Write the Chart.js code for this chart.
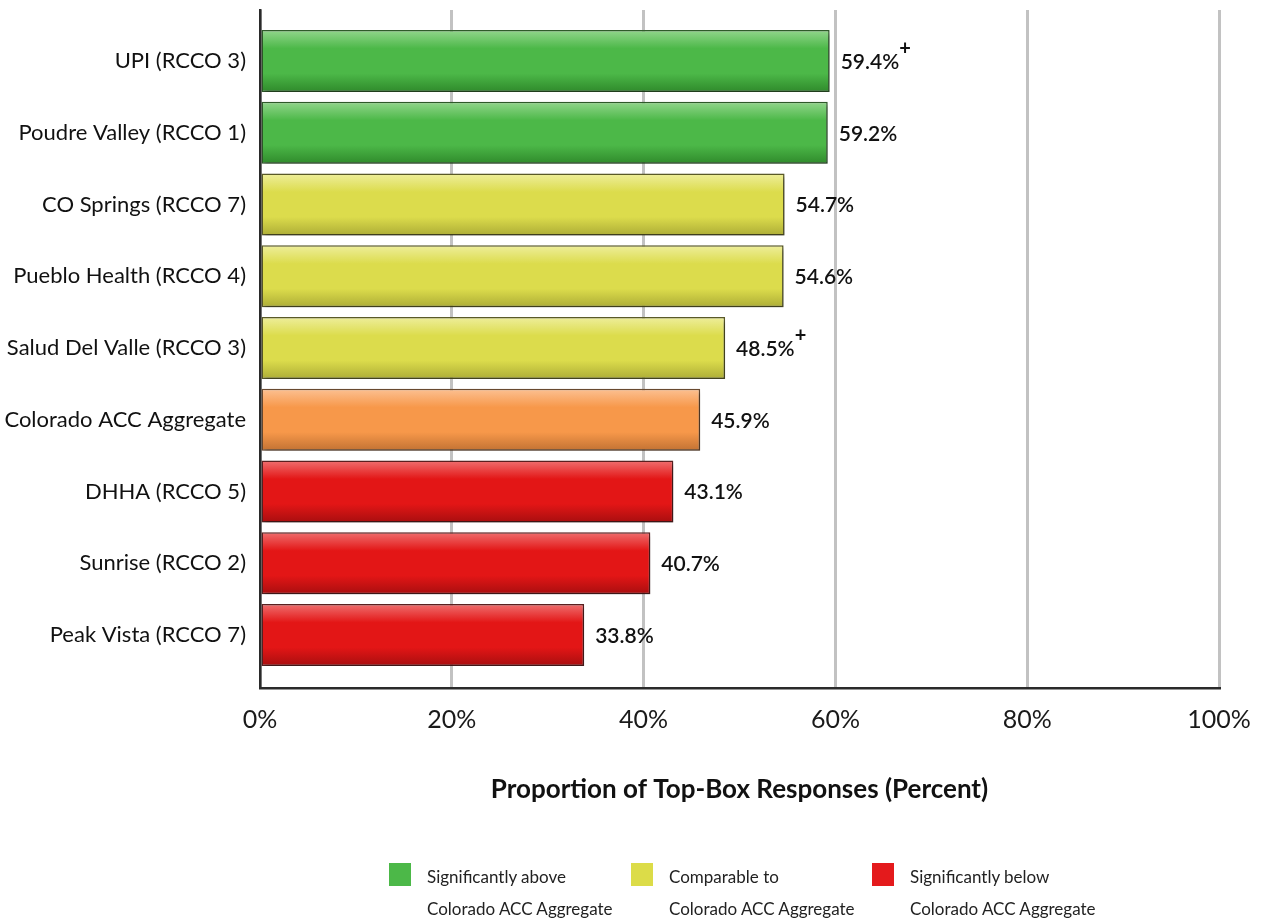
<!DOCTYPE html>
<html>
<head>
<meta charset="utf-8">
<script src="https://cdn.jsdelivr.net/npm/chart.js@4.4.1/dist/chart.umd.min.js"></script>
<style>
  html, body { margin: 0; padding: 0; background: #fff; }
  #wrap { position: relative; width: 1264px; height: 919px; overflow: hidden; }
  #c { position: absolute; left: 0; top: 0; }
  .lg { position: absolute; font-family: Lato, 'Open Sans', sans-serif; font-size: 17px; line-height: 32px; color: #222; white-space: nowrap; }
  .sw { position: absolute; width: 22px; height: 23px; }
</style>
</head>
<body>
<div id="wrap">
  <canvas id="c" width="1264" height="919"></canvas>
  <div id="legend"></div>
</div>
<script>
// ---- data ----
const categories = [
  'UPI (RCCO 3)',
  'Poudre Valley (RCCO 1)',
  'CO Springs (RCCO 7)',
  'Pueblo Health (RCCO 4)',
  'Salud Del Valle (RCCO 3)',
  'Colorado ACC Aggregate',
  'DHHA (RCCO 5)',
  'Sunrise (RCCO 2)',
  'Peak Vista (RCCO 7)'
];
const values = [59.4, 59.2, 54.7, 54.6, 48.5, 45.9, 43.1, 40.7, 33.8];
const status = ['above', 'above', 'comparable', 'comparable', 'comparable', 'aggregate', 'below', 'below', 'below'];
const plusFlags = [true, false, false, false, true, false, false, false, false];
const xTickValues = [0, 20, 40, 60, 80, 100];
const xTitle = 'Proportion of Top-Box Responses (Percent)';
const legendKeys = ['above', 'comparable', 'below'];
const legendLine1 = ['Significantly above', 'Comparable to', 'Significantly below'];
const legendLine2 = ['Colorado ACC Aggregate', 'Colorado ACC Aggregate', 'Colorado ACC Aggregate'];

// ---- styles ----
const FONT = "Lato, 'Open Sans', sans-serif";
const palette = {
  above:      { top: '#93d68d', mid: '#4cb848', bot: '#2f8a2b', border: '#2f5a2a', flat: '#4cb848' },
  comparable: { top: '#eeee9c', mid: '#dcdc4c', bot: '#adad36', border: '#5a5a28', flat: '#dcdc48' },
  aggregate:  { top: '#fcc193', mid: '#f7984a', bot: '#c27233', border: '#6a4a30', flat: '#f7984a' },
  below:      { top: '#ef7070', mid: '#e31616', bot: '#a80e0f', border: '#5a2020', flat: '#e41a1c' }
};
const BAR_H = 62;

const data = values.map((v, i) => ({ x: v, y: i }));

function barFill(ctx) {
  const p = palette[status[ctx.dataIndex]];
  if (!p) return '#888';
  const ys = ctx.chart.scales && ctx.chart.scales.y;
  if (!ys || ctx.type !== 'data') return p.mid;
  const c = ys.getPixelForValue(ctx.dataIndex);
  if (!isFinite(c)) return p.mid;
  const g = ctx.chart.ctx.createLinearGradient(0, c - BAR_H / 2, 0, c + BAR_H / 2);
  g.addColorStop(0, p.top);
  g.addColorStop(0.3, p.mid);
  g.addColorStop(0.7, p.mid);
  g.addColorStop(1, p.bot);
  return g;
}

const shadowPlugin = {
  id: 'barShadow',
  beforeDatasetsDraw(chart) {
    const c = chart.ctx;
    c.save();
    c.shadowColor = 'rgba(0,0,0,0.35)';
    c.shadowBlur = 4;
    c.shadowOffsetX = 2;
    c.shadowOffsetY = 3;
  },
  afterDatasetsDraw(chart) {
    chart.ctx.restore();
  }
};

const labelPlugin = {
  id: 'valueLabels',
  afterDatasetsDraw(chart) {
    const c = chart.ctx;
    const meta = chart.getDatasetMeta(0);
    c.save();
    c.fillStyle = '#111';
    c.textBaseline = 'middle';
    c.textAlign = 'left';
    meta.data.forEach((el, i) => {
      const txt = values[i].toFixed(1) + '%';
      c.font = '600 21px ' + FONT;
      const x = el.x + 11;
      c.fillText(txt, x, el.y + 1);
      if (plusFlags[i]) {
        const w = c.measureText(txt).width;
        c.font = 'bold 20px ' + FONT;
        c.fillText('+', x + w, el.y - 12);
      }
    });
    c.restore();
  }
};

new Chart(document.getElementById('c'), {
  type: 'bar',
  data: {
    datasets: [{
      data: data,
      backgroundColor: barFill,
      borderColor: (ctx) => (palette[status[ctx.dataIndex]] || {}).border || '#333',
      borderWidth: 1.5,
      borderSkipped: false,
      categoryPercentage: 1,
      barPercentage: 0.864
    }]
  },
  options: {
    indexAxis: 'y',
    responsive: false,
    animation: false,
    devicePixelRatio: 1,
    layout: { autoPadding: false, padding: { top: 10, right: 45, bottom: 0, left: 0 } },
    plugins: {
      legend: { display: false },
      tooltip: { enabled: false }
    },
    scales: {
      y: {
        type: 'linear',
        reverse: true,
        offset: false,
        bounds: 'data',
        min: -0.711,
        max: 8.739,
        afterFit(scale) { scale.width = 260; scale.paddingTop = 0; scale.paddingBottom = 0; },
        afterBuildTicks(scale) {
          scale.ticks = categories.map((_, i) => ({ value: i }));
        },
        ticks: {
          autoSkip: false,
          padding: 14,
          color: '#111',
          font: { family: FONT, size: 22 },
          callback: (v) => categories[v] !== undefined ? categories[v] : ''
        },
        grid: { display: false, drawTicks: false },
        border: { display: true, color: '#2a2a2a', width: 2.5 }
      },
      x: {
        type: 'linear',
        min: 0,
        max: 100,
        afterFit(scale) { scale.height = 231; scale.paddingLeft = 0; scale.paddingRight = 0; },
        afterBuildTicks(scale) {
          scale.ticks = xTickValues.map(v => ({ value: v }));
        },
        ticks: {
          padding: 17,
          color: '#1a1a1a',
          font: { family: FONT, size: 25 },
          callback: (v) => v + '%'
        },
        grid: { color: '#c2c2c2', lineWidth: 3, drawTicks: false },
        border: { display: true, color: '#2a2a2a', width: 2.5 },
        title: {
          display: true,
          text: xTitle,
          color: '#111',
          font: { family: FONT, size: 26, weight: 'bold' },
          padding: { top: 0, bottom: 114 }
        }
      }
    }
  },
  plugins: [shadowPlugin, labelPlugin]
});

// ---- legend (HTML) ----
const legendX = [389, 631, 872];
const legendEl = document.getElementById('legend');
legendKeys.forEach((k, i) => {
  const sw = document.createElement('div');
  sw.className = 'sw';
  sw.style.left = legendX[i] + 'px';
  sw.style.top = '863px';
  sw.style.background = palette[k].flat;
  legendEl.appendChild(sw);
  const t = document.createElement('div');
  t.className = 'lg';
  t.style.left = (legendX[i] + 38) + 'px';
  t.style.top = '861px';
  t.innerHTML = legendLine1[i] + '<br>' + legendLine2[i];
  legendEl.appendChild(t);
});
</script>
</body>
</html>
